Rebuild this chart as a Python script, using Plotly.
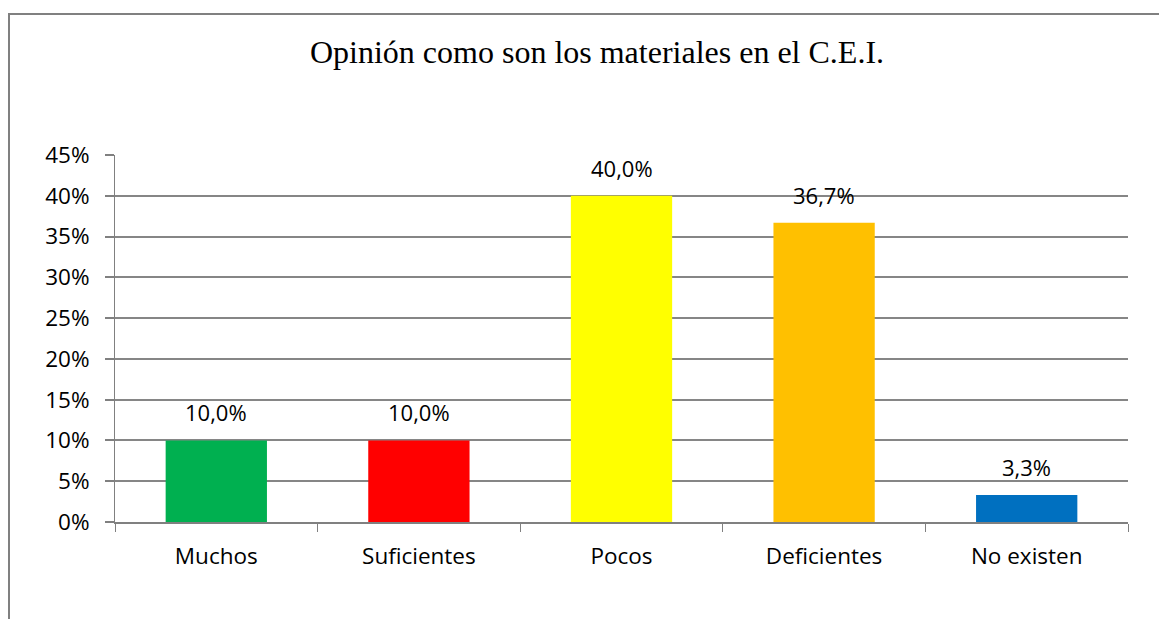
import plotly.graph_objects as go

categories = ["Muchos", "Suficientes", "Pocos", "Deficientes", "No existen"]
values = [10.0, 10.0, 40.0, 36.7, 3.3]
colors = ["#00B050", "#FF0000", "#FFFF00", "#FFC000", "#0070C0"]
labels = ["10,0%", "10,0%", "40,0%", "36,7%", "3,3%"]
title = "Opinión como son los materiales en el C.E.I."

W, H = 1167, 619
OFF = 8  # page body margin
L, R, T, B = 115 - OFF, 1167 - (1128 - OFF), 155 - OFF, 619 - (522 - OFF)
pw, ph = W - L - R, H - T - B

fig = go.Figure()
fig.add_trace(go.Bar(x=categories, y=values, marker=dict(color=colors, line=dict(width=0)),
                     width=0.5, hoverinfo="skip"))

for c, v, t in zip(categories, values, labels):
    fig.add_annotation(x=c, y=v, text=t, showarrow=False, yanchor="bottom", yshift=11,
                       font=dict(family="Open Sans", size=22, color="#000000"))

def px_x(p):
    return (p - OFF - L) / pw

def px_y(p):
    return (H - B - (p - OFF)) / ph

fig.add_shape(type="rect", xref="paper", yref="paper",
              x0=px_x(9), x1=px_x(1190), y0=px_y(14), y1=px_y(650),
              line=dict(color="#808080", width=2), fillcolor="rgba(0,0,0,0)")

fig.update_layout(
    width=W, height=H, margin=dict(l=L, r=R, t=T, b=B),
    paper_bgcolor="white", plot_bgcolor="white",
    showlegend=False,
    title=dict(text=title, x=(597 - OFF) / W, xanchor="center", y=1 - (52 - OFF) / H, yanchor="middle",
               font=dict(family="Liberation Serif", size=32, color="#000000")),
    xaxis=dict(type="category", tickson="boundaries", ticks="outside", ticklen=8,
               tickcolor="#808080", tickwidth=1, showline=True, linecolor="#808080", linewidth=2,
               showgrid=False, tickfont=dict(family="Open Sans", size=22.5, color="#000000"),
               ticklabelstandoff=13, range=[-0.5, 4.5]),
    yaxis=dict(range=[0, 45], dtick=5, tick0=0, ticksuffix="%", ticks="outside", ticklen=9,
               tickcolor="#808080", tickwidth=2, showline=True, linecolor="#808080", linewidth=1,
               showgrid=True, gridcolor="#868686", gridwidth=2, zeroline=False,
               ticklabelstandoff=11,
               tickfont=dict(family="Open Sans", size=22.5, color="#000000")),
)

fig.write_html("out.html")
